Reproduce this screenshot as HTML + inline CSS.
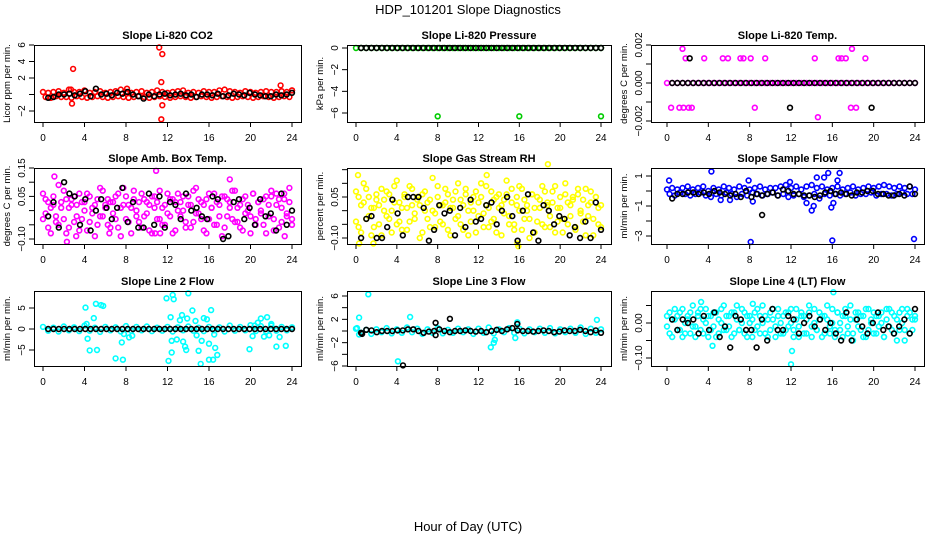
<!DOCTYPE html>
<html><head><meta charset="utf-8"><style>
body{margin:0;background:#fff;}
svg{display:block;font-family:"Liberation Sans",sans-serif;}
</style></head><body>
<svg id="chart" width="936" height="540" viewBox="0 0 936 540">
<text x="468" y="14" text-anchor="middle" font-size="13">HDP_101201  Slope Diagnostics</text>
<text x="468" y="531" text-anchor="middle" font-size="13">Hour of Day (UTC)</text>
</svg>
<script>
// ---- data ----
const co2Red=[0.3,-0.3,0.2,-0.4,0.3,-0.2,0.4,-0.3,0.2,-0.3,0.6,-0.4,0.3,-0.2,0.3,-0.3,0.5,-0.4,0.2,-0.3,0.3,-0.2,0.4,-0.3,0.2,-0.4,0.3,-0.3,0.4,-0.2,0.6,-0.3,0.3,-0.4,0.2,-0.3,0.3,-0.2,0.4,-0.3,0.2,-0.4,0.3,-0.3,0.5,-0.2,0.3,-0.3,0.2,-0.4,0.3,-0.3,0.4,-0.2,0.5,-0.3,0.2,-0.4,0.3,-0.3,0.2,-0.2,0.4,-0.3,0.3,-0.4,0.3,-0.3,0.5,-0.2,0.6,-0.3,0.4,-0.4,0.3,-0.3,0.2,-0.2,0.4,-0.3,0.3,-0.4,0.2,-0.3,0.3,-0.2,0.4,-0.3,0.3,-0.4,0.3,-0.3,0.4,-0.2,0.3,-0.3,0.5];
const co2Black=[-0.4,-0.3,0,0,0.1,-0.1,0.1,0.4,-0.2,0.7,0,0.1,-0.1,0.2,0.1,0.3,0,-0.2,-0.5,0,-0.2,0,0.1,-0.1,0,0.1,-0.1,0,-0.3,0,0,-0.1,0.1,-0.2,-0.1,0.1,0,-0.1,0.2,0,-0.1,-0.2,-0.2,0,-0.1,0,0.2];
const co2OutX=[2.9,2.8,2.7,11.2,11.5,11.4,11.5,11.4,22.9,8.1,24];
const co2OutY=[3.1,-1.1,0.6,5.7,4.9,1.5,-1.3,-3.0,1.1,0.7,0.5];

const presGreen=[0,0,0,0,0,0,0,0,0,0,0,0,0,0,0,0,0,0,0,0,0,0,0,0,0,0,0,0,0,0,0,0,0,0,0,0,0,0,0,0,0,0,0,0,0,0,0,0,0];
const presBlack=[0,0,0,0,0,0,0,0,0,0,0,0,0,0,0,0,0,0,0,0,0,0,0,0,0,0,0,0,0,0,0,0,0,0,0,0,0,0,0,0,0,0,0,0,0,0,0];
const presOutX=[8,16,24];
const presOutY=[-6.3,-6.3,-6.3];

const tempMag=[0,0,0,0,0,0,0,0,0,0,0,0,0,0,0,0,0,0,0,0,0,0,0,0,0,0,0,0,0,0,0,0,0,0,0,0,0,0,0,0,0,0,0,0,0,0,0,0,0];
const tempBlack=[0,0,0,0,0,0,0,0,0,0,0,0,0,0,0,0,0,0,0,0,0,0,0,0,0,0,0,0,0,0,0,0,0,0,0,0,0,0,0,0,0,0,0,0,0,0,0];
const tempOutX=[1.5,17.9,1.8,3.6,5.4,5.9,7.1,7.4,8.1,9.5,14.3,16.6,16.9,17.3,19.2,0.4,1.2,1.6,2.1,2.4,8.5,17.8,18.3,14.6];
const tempOutY=[0.0018,0.0018,0.0013,0.0013,0.0013,0.0013,0.0013,0.0013,0.0013,0.0013,0.0013,0.0013,0.0013,0.0013,0.0013,-0.0013,-0.0013,-0.0013,-0.0013,-0.0013,-0.0013,-0.0013,-0.0013,-0.0018];
const tempBlackOutX=[2.2,11.9,19.8];
const tempBlackOutY=[0.0013,-0.0013,-0.0013];

const ambA=[0.06,-0.01,0.03,-0.08,0.02,-0.04,0.09,0.01,-0.03,0.04,-0.06,0.02,0.05,-0.02,-0.07,0.03,0.00,0.06,-0.04,0.01,-0.09,0.04,-0.02,0.07,0.02,-0.05,0.03,-0.01,0.05,-0.06,0.01,0.08,-0.03,0.02,-0.08,0.04,0.00,-0.04,0.06,-0.02,0.03,-0.07,0.05,0.01,-0.03,0.07,-0.05,0.02,-0.01,0.04,-0.08,0.03,0.06,-0.02,0.00,-0.06,0.05,0.02,-0.04,0.08,-0.01,0.03,-0.07,0.04,-0.03,0.01,0.06,-0.05,0.02,-0.09,0.05,-0.02,0.03,0.07,-0.04,0.01,-0.06,0.04,-0.01,0.02,-0.08,0.06,-0.03,0.03,0.00,-0.05,0.05,-0.02,0.07,-0.07,0.02,0.04,-0.04,0.06,-0.01,0.08,-0.03];
const ambB=[-0.03,0.04,-0.06,0.01,0.05,-0.02,-0.05,0.03,0.07,-0.08,0.01,0.04,-0.04,0.02,0.06,-0.03,0.03,-0.07,0.05,-0.01,0.02,-0.05,0.08,-0.02,0.01,0.04,-0.06,0.03,-0.03,0.06,-0.09,0.02,0.05,-0.04,0.01,0.07,-0.02,0.03,-0.06,0.04,-0.01,0.02,-0.08,0.05,0.03,-0.03,0.01,-0.05,0.06,-0.02,0.04,-0.07,0.00,0.03,0.05,-0.04,0.02,-0.06,0.07,-0.01,0.04,-0.03,0.02,-0.08,0.06,0.01,-0.05,0.03,-0.02,0.05,-0.06,0.04,0.01,-0.03,0.07,-0.04,0.02,-0.07,0.05,0.00,-0.02,0.06,-0.05,0.03,-0.01,0.04,-0.08,0.02,0.05,-0.03,0.06,-0.06,0.01,0.04,-0.02,0.03,-0.05];
const ambBlack=[-0.02,0.03,-0.06,0.10,0.06,0.05,-0.05,0.04,-0.07,0.00,0.04,0.01,-0.03,0.01,0.08,-0.04,0.03,-0.06,-0.06,0.06,-0.05,0.05,-0.06,0.03,0.02,-0.03,0.06,0.00,0.01,-0.02,-0.03,0.05,0.04,-0.10,-0.09,0.03,0.04,-0.03,0.01,-0.05,0.04,-0.02,-0.01,-0.07,0.06,-0.05,0.00];
const ambOutX=[1.1,2.3,10.9,10.8,11.3,3.2,6.4,18.0,23.3];
const ambOutY=[0.12,-0.11,0.14,-0.08,-0.08,-0.09,-0.08,0.11,-0.09];

const rhA=[0.07,-0.06,0.02,0.10,-0.03,0.05,-0.09,0.01,0.04,-0.05,0.08,0.00,-0.02,0.06,-0.08,0.03,0.11,-0.04,0.01,0.05,-0.07,0.09,0.02,-0.03,0.04,-0.10,0.06,0.00,0.03,-0.06,0.12,-0.01,0.05,-0.04,0.02,0.08,-0.07,0.01,0.04,-0.03,0.10,-0.05,0.02,0.06,-0.09,0.03,0.00,0.07,-0.02,0.05,-0.06,0.09,0.01,-0.04,0.04,-0.08,0.06,0.02,-0.01,0.11,-0.05,0.03,-0.07,0.05,0.00,0.08,-0.03,0.02,-0.10,0.06,0.01,-0.04,0.04,0.09,-0.06,0.03,-0.02,0.07,-0.08,0.01,0.05,-0.03,0.10,-0.05,0.02,0.04,-0.07,0.06,0.00,-0.04,0.08,-0.02,0.03,-0.09,0.05,0.01,-0.06];
const rhB=[-0.04,0.05,-0.08,0.03,0.08,-0.02,0.01,-0.06,0.06,0.02,-0.09,0.04,0.07,-0.03,0.00,0.09,-0.05,0.03,-0.07,0.06,0.01,-0.04,0.08,-0.01,0.05,0.02,-0.08,0.07,-0.03,0.04,0.00,-0.06,0.09,0.02,-0.05,0.03,0.06,-0.09,0.01,0.07,-0.02,0.04,-0.07,0.08,0.00,-0.04,0.05,-0.08,0.03,0.10,-0.01,0.02,-0.06,0.07,-0.03,0.05,0.01,-0.09,0.04,0.06,-0.02,0.08,-0.05,0.02,0.09,-0.07,0.04,0.00,-0.03,0.06,-0.08,0.05,0.01,-0.05,0.07,0.02,-0.06,0.03,0.09,-0.04,0.01,-0.08,0.06,0.03,-0.02,0.05,-0.06,0.08,-0.01,0.04,-0.09,0.02,0.07,-0.03,0.05,-0.05,0.02];
const rhBlack=[-0.10,-0.03,-0.02,-0.10,-0.10,-0.06,0.04,-0.01,-0.09,0.05,0.05,0.05,0.01,-0.11,-0.07,0.02,-0.01,0.00,-0.09,0.01,-0.06,0.04,-0.04,-0.03,0.02,0.03,-0.05,0.00,0.05,-0.02,-0.11,0.00,0.06,-0.08,-0.11,0.02,0.00,-0.05,-0.02,-0.03,-0.09,-0.06,-0.10,-0.04,-0.10,0.03,-0.07];
const rhOutX=[0.2,0.3,1.7,15.8,15.9,18.8,12.8];
const rhOutY=[0.13,-0.12,-0.12,-0.12,-0.13,0.17,0.13];

const flowBlue=[0.1,-0.2,0.2,-0.3,0.1,-0.1,0.2,-0.2,0.3,-0.3,0.1,-0.2,0.2,-0.1,0.3,-0.3,0.0,-0.4,0.2,-0.2,0.1,-0.3,0.3,-0.1,0.2,-0.2,0.1,-0.4,0.3,-0.2,0.2,-0.3,0.1,-0.1,0.2,-0.2,0.3,-0.3,0.1,-0.2,0.2,-0.1,0.2,-0.3,0.3,-0.2,0.4,-0.4,0.2,-0.3,0.3,-0.2,0.1,-0.4,0.3,-0.3,0.4,-0.2,0.2,-0.5,0.3,-0.2,0.1,-0.3,0.2,-0.2,0.3,-0.3,0.1,-0.2,0.2,-0.1,0.3,-0.3,0.1,-0.2,0.2,-0.2,0.3,-0.1,0.2,-0.3,0.3,-0.2,0.4,-0.2,0.3,-0.3,0.2,-0.2,0.3,-0.1,0.2,-0.2,0.3,-0.2,0.1];
const flowBlack=[-0.5,-0.2,-0.2,-0.1,-0.1,-0.2,-0.1,-0.2,0.0,-0.1,-0.2,-0.3,-0.2,-0.4,0.0,-0.4,-0.2,-0.3,-0.2,-0.1,-0.3,0.1,0.0,-0.2,-0.2,-0.3,-0.3,-0.4,-0.3,-0.1,0.0,-0.2,-0.1,-0.2,-0.3,-0.1,-0.1,0.0,0.0,-0.2,-0.2,-0.3,-0.3,-0.2,-0.3,0.3,-0.2];
const flowOutX=[0.2,4.3,7.9,8.1,8.3,11.9,13.5,14.0,14.2,14.5,15.2,15.6,15.9,16.0,16.1,16.5,16.7,23.9,5.2,6.1];
const flowOutY=[0.7,1.3,0.7,-3.4,-0.7,0.6,-0.8,-1.3,-1.0,0.9,0.9,1.2,-1.1,-3.3,-0.8,0.7,1.2,-3.2,-0.6,-0.6];
const flowBlackOutX=[9.2];
const flowBlackOutY=[-1.6];

const l2Cyan=[0.5,-0.4,0.3,-0.6,0.6,-0.3,0.4,-0.5,0.8,-0.4,0.3,-0.7,0.5,-0.3,0.4,-0.6,0.7,-0.4,0.5,-0.3,0.6,-0.5,0.3,-0.4,0.5,-0.6,0.4,-0.3,0.6,-0.4,0.3,-0.5,0.5,-0.3,0.4,-0.6,0.8,-0.4,0.5,-0.3,0.9,-0.5,0.7,-0.6,0.8,-0.4,0.5,-0.3,0.4];
const l2Black=[0,0,0,0,0,0,0,0,0,0,0,0,0,0,0,0,0,0,0,0,0,0,0,0,0,0,0,0,0,0,0,0,0,0,0,0,0,0,0,0,0,0,0,0,0,0,0];
const l2OutX=[4.1,4.2,4.3,4.5,4.9,5.1,5.2,5.6,5.8,7.0,7.6,7.7,7.8,8.3,8.6,11.9,12.1,12.3,12.4,12.4,12.5,12.6,12.9,13.2,13.4,13.5,13.7,13.8,13.9,14.0,14.4,14.7,14.8,15.0,15.2,15.3,15.5,15.8,16.0,16.2,16.0,16.4,16.6,16.8,16.5,19.9,20.2,20.7,21.0,21.3,21.6,21.8,22.5,22.8,23.4,20.4,22.0];
const l2OutY=[5.1,1.2,-2.3,-5.1,2.6,6.0,-5.0,5.7,5.5,-7.0,-3.2,-7.3,-1.2,-2.0,-1.6,7.3,-7.6,2.8,-2.8,-5.6,8.1,7.1,-2.5,2.1,3.3,-3.0,-4.2,-5.0,2.5,8.5,4.4,1.9,-1.5,-5.2,-8.3,-2.8,2.6,2.3,-3.5,4.5,-7.3,-7.3,-4.5,-6.2,-1.3,-4.8,-1.7,1.5,2.5,-1.8,2.8,-1.5,-4.2,-1.9,-4.0,0.8,1.2];

const l3Cyan=[0.4,-0.3,0.2,-0.5,0.3,-0.2,0.5,-0.4,0.3,-0.3,0.6,-0.2,0.4,-0.5,0.3,-0.3,0.5,-0.4,0.2,-0.3,0.4,-0.2,0.3,-0.5,0.4,-0.3,0.6,-0.4,0.3,-0.2,0.5,-0.3,0.4,-0.4,0.3,-0.2,0.4,-0.3,0.5,-0.4,0.3,-0.2,0.4,-0.3,0.6,-0.5,0.4,-0.3,0.3];
const l3Black=[-0.3,0.2,0.1,-0.2,0.0,0.0,0.0,0.1,0.1,0.3,0.3,0.0,-0.3,-0.1,0.0,0.3,0.0,-0.2,0.0,0.0,0.1,0.0,-0.1,0.0,-0.2,0.0,0.2,0.0,0.3,0.5,0.1,0.0,0.0,-0.1,0.0,0.1,0.0,-0.2,-0.1,0.1,0.0,0.0,0.2,0.0,-0.2,0.1,-0.3];
const l3OutX=[0.3,0.3,1.2,4.1,5.3,13.2,13.5,13.6,15.6,15.8,23.6,0.1];
const l3OutY=[-0.6,2.3,6.3,-5.2,2.4,-2.8,-2.0,-1.5,-1.2,1.5,1.9,0.5];
const l3BlackOutX=[0.6,4.6,7.8,7.8,9.2,15.8];
const l3BlackOutY=[-0.5,-5.9,1.4,-0.7,2.1,1.2];

const l4A=[0.02,-0.03,0.01,0.04,-0.02,0.03,-0.04,0.00,0.02,-0.03,0.05,-0.01,0.03,-0.02,0.01,0.04,-0.04,0.02,-0.01,0.03,-0.03,0.00,0.05,-0.02,0.02,-0.04,0.03,0.01,-0.02,0.04,-0.03,0.02,0.00,-0.04,0.03,-0.01,0.02,0.05,-0.03,0.01,-0.02,0.04,-0.04,0.02,0.00,-0.03,0.03,-0.01,0.04,-0.02,0.01,-0.04,0.03,0.02,-0.03,0.05,-0.01,0.00,-0.02,0.03,-0.04,0.02,0.01,-0.03,0.04,-0.02,0.03,0.00,-0.04,0.02,-0.01,0.05,-0.03,0.01,0.03,-0.02,0.02,-0.04,0.04,0.00,-0.03,0.02,-0.01,0.03,-0.04,0.01,0.04,-0.02,0.02,-0.05,0.03,0.00,-0.02,0.04,-0.03,0.01,0.02];
const l4B=[-0.01,0.03,-0.04,0.01,0.02,-0.02,0.04,-0.03,0.01,0.03,-0.01,-0.04,0.02,0.04,-0.03,0.00,0.02,-0.02,0.03,-0.04,0.01,0.04,-0.02,0.02,-0.01,0.03,-0.03,0.05,-0.02,0.00,0.03,-0.04,0.02,0.01,-0.02,0.04,-0.03,0.00,0.02,-0.04,0.03,0.01,-0.01,0.04,-0.03,0.02,-0.02,0.03,0.00,-0.04,0.04,-0.01,0.02,-0.03,0.01,0.03,-0.04,0.04,-0.02,0.01,0.02,-0.03,0.05,-0.01,0.00,-0.04,0.03,-0.02,0.02,0.04,-0.03,0.01,-0.05,0.03,-0.01,0.02,-0.04,0.04,-0.02,0.01,0.03,-0.03,0.02,0.00,-0.04,0.04,-0.01,0.03,-0.03,0.01,-0.02,0.04,-0.05,0.02,0.03,-0.02,0.01];
const l4Black=[0.01,-0.02,0.01,0.00,0.01,-0.03,0.02,-0.02,0.03,-0.04,-0.01,-0.07,0.02,0.01,-0.02,-0.02,-0.07,0.01,-0.05,0.04,-0.02,-0.02,0.02,0.01,-0.03,0.00,0.02,-0.01,0.01,-0.02,0.00,-0.03,-0.05,0.03,-0.05,0.01,-0.01,-0.03,0.00,0.03,-0.02,-0.01,-0.03,-0.01,0.01,-0.03,0.04];
const l4OutX=[16.1,12.1,12.0,4.4,3.3,8.3];
const l4OutY=[0.088,-0.08,-0.118,-0.065,0.06,0.055];

const hourTicks=[0,4,8,12,16,20,24];

// ---- layout ----
const cols=[{l:34,r:301,x0:43,x24:292},{l:347,r:611,x0:356,x24:601},{l:651,r:924,x0:667,x24:915}];
const rows=[{t:45,b:122},{t:168,b:244},{t:291,b:366}];
const NS='http://www.w3.org/2000/svg';
const svg=document.getElementById('chart');
function mk(tag,parent){const e=document.createElementNS(NS,tag);parent.appendChild(e);return e;}

const panels=[
 {id:'co2',title:'Slope Li-820 CO2',yl:'Licor ppm per min.',c:0,r:0,col:'#ff0000',cal:[6,45,-2,111],ticks:[-2,0,2,4,6],labs:['\u22122','','2','4','6'],main:[co2Red],black:co2Black,ox:co2OutX,oy:co2OutY},
 {id:'pressure',title:'Slope Li-820 Pressure',yl:'kPa per min.',c:1,r:0,col:'#00cc00',cal:[0,48,-6,113],ticks:[0,-2,-4,-6],labs:['0','\u22122','\u22124','\u22126'],main:[presGreen],black:presBlack,ox:presOutX,oy:presOutY},
 {id:'temp',title:'Slope Li-820 Temp.',yl:'degrees C per min.',c:2,r:0,col:'#ff00ff',cal:[0.002,45,-0.002,121],ticks:[-0.002,-0.001,0,0.001,0.002],labs:['\u22120.002','','0.000','','0.002'],main:[tempMag],black:tempBlack,ox:tempOutX,oy:tempOutY,bx:tempBlackOutX,by:tempBlackOutY},
 {id:'amb',title:'Slope Amb. Box Temp.',yl:'degrees C per min.',c:0,r:1,col:'#ff00ff',cal:[0.15,168,-0.10,239],ticks:[-0.10,-0.05,0,0.05,0.10,0.15],labs:['\u22120.10','','','0.05','','0.15'],main:[ambA,ambB],black:ambBlack,ox:ambOutX,oy:ambOutY},
 {id:'rh',title:'Slope Gas Stream RH',yl:'percent per min.',c:1,r:1,col:'#ffff00',cal:[0.05,197,-0.10,238],ticks:[-0.10,-0.05,0,0.05,0.10,0.15],labs:['\u22120.10','','','0.05','',''],main:[rhA,rhB],black:rhBlack,ox:rhOutX,oy:rhOutY},
 {id:'sample-flow',title:'Slope Sample Flow',yl:'ml/min per min.',c:2,r:1,col:'#0000ff',cal:[1,176,-3,236],ticks:[-3,-2,-1,0,1],labs:['\u22123','','\u22121','','1'],main:[flowBlue],black:flowBlack,ox:flowOutX,oy:flowOutY,bx:flowBlackOutX,by:flowBlackOutY},
 {id:'line2',title:'Slope Line 2 Flow',yl:'ml/min per min.',c:0,r:2,col:'#00ffff',cal:[5,308,-5,350],ticks:[-5,0,5],labs:['\u22125','0','5'],main:[l2Cyan],black:l2Black,ox:l2OutX,oy:l2OutY},
 {id:'line3',title:'Slope Line 3 Flow',yl:'ml/min per min.',c:1,r:2,col:'#00ffff',cal:[6,296,-6,366],ticks:[-6,-4,-2,0,2,4,6],labs:['\u22126','','\u22122','','2','','6'],main:[l3Cyan],black:l3Black,ox:l3OutX,oy:l3OutY,bx:l3BlackOutX,by:l3BlackOutY},
 {id:'line4',title:'Slope Line 4 (LT) Flow',yl:'ml/min per min.',c:2,r:2,col:'#00ffff',cal:[0,323,-0.10,358],ticks:[-0.10,-0.05,0,0.05],labs:['\u22120.10','','0.00',''],main:[l4A,l4B],black:l4Black,ox:l4OutX,oy:l4OutY}
];

function dot(g,x,y,color){
 const c=mk('circle',g);
 
 
 c.setAttribute('cx',x.toFixed(1));c.setAttribute('cy',y.toFixed(1));c.setAttribute('r','2.4');
 c.setAttribute('fill','none');c.setAttribute('stroke',color);c.setAttribute('stroke-width','1.6');
}

panels.forEach(p=>{
 const C=cols[p.c],R=rows[p.r];
 const X=h=>C.x0+(h/24)*(C.x24-C.x0);
 const [v1,p1,v2,p2]=p.cal;
 const Y=v=>p1+(v-v1)*(p2-p1)/(v2-v1);
 const g=mk('g',svg);
 
 
 const t=mk('text',g);
 
 
 t.setAttribute('x',(C.l+C.r)/2);t.setAttribute('y',R.t-6);t.setAttribute('text-anchor','middle');
 t.setAttribute('font-size','11');t.setAttribute('font-weight','bold');t.textContent=p.title;
 const yt=mk('text',g);
 
 
 const ym=(R.t+R.b)/2,yx=C.l-24;
 yt.setAttribute('x',yx);yt.setAttribute('y',ym);yt.setAttribute('text-anchor','middle');
 yt.setAttribute('font-size','9.5');yt.setAttribute('transform','rotate(-90 '+yx+' '+ym+')');yt.textContent=p.yl;
 const pts=mk('g',g);
 
 
 p.main.forEach(arr=>arr.forEach((v,i)=>dot(pts,X(i*24/(arr.length-1)),Y(v),p.col)));
 p.ox.forEach((h,i)=>dot(pts,X(h),Y(p.oy[i]),p.col));
 p.black.forEach((v,i)=>dot(pts,X(0.5+i*23.5/(p.black.length-1)),Y(v),'#000'));
 if(p.bx)p.bx.forEach((h,i)=>dot(pts,X(h),Y(p.by[i]),'#000'));
 const b=mk('rect',g);
 
 
 b.setAttribute('x',C.l+0.5);b.setAttribute('y',R.t+0.5);b.setAttribute('width',C.r-C.l);b.setAttribute('height',R.b-R.t);
 b.setAttribute('fill','none');b.setAttribute('stroke','#000');b.setAttribute('stroke-width','1');
 hourTicks.forEach(h=>{
  const x=X(h);
  const l=mk('line',g);
  
  
  l.setAttribute('x1',x);l.setAttribute('x2',x);l.setAttribute('y1',R.b);l.setAttribute('y2',R.b+5);l.setAttribute('stroke','#000');
  const tx=mk('text',g);
  
  
  tx.setAttribute('x',x);tx.setAttribute('y',R.b+19);tx.setAttribute('text-anchor','middle');tx.setAttribute('font-size','10');tx.textContent=h;
 });
 p.ticks.forEach((v,i)=>{
  const y=Y(v);
  const l=mk('line',g);
  
  
  l.setAttribute('x1',C.l-5);l.setAttribute('x2',C.l);l.setAttribute('y1',y);l.setAttribute('y2',y);l.setAttribute('stroke','#000');
  if(p.labs[i]){
   const tx=mk('text',g);
   
   
   const lx=C.l-9;
   tx.setAttribute('x',lx);tx.setAttribute('y',y);tx.setAttribute('text-anchor','middle');tx.setAttribute('font-size','10');
   tx.setAttribute('transform','rotate(-90 '+lx+' '+y+')');tx.textContent=p.labs[i];
  }
 });
});
</script>
</body></html>
